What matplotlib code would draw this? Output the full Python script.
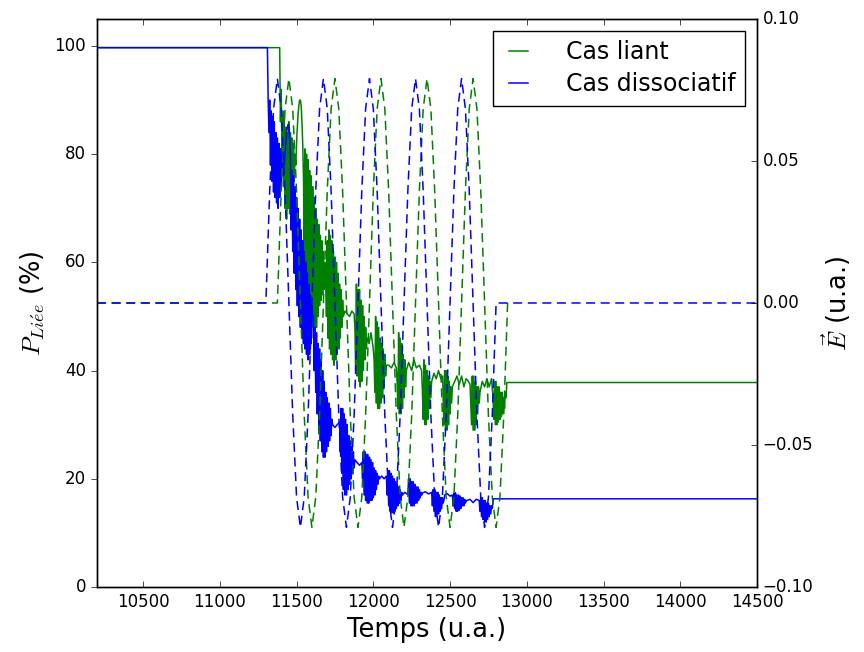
import numpy as np
import matplotlib
matplotlib.use('Agg')
import matplotlib.pyplot as plt

# Pas (u.a.) entre deux points lus dans les zones bruitées
pas_rafale = 5

# Cas liant : paliers calmes (temps, valeur)
liant_calme_t = [10200, 11388, 11815, 11830, 11845, 11860, 11875, 11972, 11985, 11998,
                 12100, 12118, 12135, 12150, 12230, 12250, 12265, 12280, 12300, 12315,
                 12395, 12410, 12425, 12440, 12452, 12530, 12545, 12560, 12575, 12590,
                 12605, 12620, 12630, 12710, 12725, 12740, 12755, 12770, 14500]
liant_calme_p = [99.7, 99.7, 51, 50.5, 50, 51, 50.5, 45, 47, 44.5,
                 41, 40.5, 41.5, 40.5, 41.5, 40, 42, 40.5, 41, 40,
                 39.5, 38.5, 40, 38.5, 39, 38, 39, 37.5, 39, 37,
                 38.5, 38, 37.5, 38, 37, 38.5, 37, 38.5, 37.8]

# Cas liant : rafales (début, puis une valeur tous les 5 u.a.)
liant_debuts = [11390, 11550, 11695, 11880, 12005, 12155, 12320, 12455, 12635, 12780]
liant_r1 = [99.7, 86, 92, 80, 88, 74, 87, 70, 85, 68, 84, 70, 86, 69, 84, 72, 83, 71, 82, 75,
            80, 78, 82, 85, 87.5, 89, 90, 90, 89, 86, 82, 76]
liant_r2 = [62, 81, 58, 80, 55, 79, 52, 77, 50, 76, 48, 74, 46, 72, 45, 70, 48, 68, 50, 67,
            52, 65, 53, 64, 54, 62, 55, 60, 56]
liant_r3 = [50, 64, 46, 66, 44, 65, 43, 64, 42, 62, 41, 61, 42, 60, 43, 58, 44, 56, 46, 55,
            48, 53, 50]
liant_r4 = [48, 40, 56, 39, 55, 38, 55, 37, 53, 38, 52, 40, 50, 42, 48, 44, 46]
liant_r5 = [42, 36, 50, 34, 49, 33, 48, 33, 46, 34, 45, 35, 44, 37, 43, 39, 41]
liant_r6 = [38, 33, 47, 32, 46, 32, 45, 33, 43, 35, 42, 37, 40]
liant_r7 = [36, 31, 42, 30, 41, 30, 40, 31, 39, 33, 38, 35, 38]
liant_r8 = [35, 30, 40, 29, 40, 29, 39, 30, 38, 32, 37, 34, 37]
liant_r9 = [34, 30, 39, 29, 39, 29, 38, 30, 37, 32, 37, 34, 36]
liant_r10 = [35, 31, 38, 30, 38, 30, 37, 30.5, 37, 31, 36, 31.5, 36, 32, 35, 33, 36, 35, 37.8]

# Cas dissociatif : paliers calmes
dissoc_calme_t = [10200, 11310, 11610, 11750, 11765, 11780, 11895, 11910, 11925, 12055,
                  12070, 12085, 12205, 12220, 12340, 12360, 12380, 12480, 12500, 12515,
                  12630, 12650, 12670, 12690, 12782, 14500]
dissoc_calme_p = [99.7, 99.7, 50, 29.5, 30, 30.5, 23, 22.5, 23, 20.5,
                  20, 20.5, 17.5, 17.2, 17.6, 17.2, 17.5, 17.3, 16.8, 17,
                  16.2, 15.6, 16.2, 16, 16.3, 16.3]

# Cas dissociatif : rafales
dissoc_debuts = [11315, 11460, 11615, 11785, 11930, 12090, 12225, 12385, 12520, 12695]
dissoc_r1 = [90, 84, 90, 78, 88, 75, 87, 73, 86, 72, 84, 71, 83, 70, 82, 72, 81, 74, 80, 76,
             79, 78, 80, 82, 84, 85, 85.5, 85, 83]
dissoc_r2 = [80, 66, 77, 62, 76, 58, 74, 55, 72, 52, 70, 50, 68, 48, 66, 46, 64, 45, 62, 44,
             60, 43, 58, 42, 56, 43, 54, 45, 52, 50]
dissoc_r3 = [40, 48, 36, 47, 32, 45, 29, 44, 27, 42, 25, 40, 24, 38, 24, 36, 25, 35, 26, 34,
             27, 33, 28, 31, 30]
dissoc_r4 = [25, 33, 21, 33, 18, 32, 17, 31, 17, 30, 18, 28, 19, 27, 20, 26, 21, 25, 22, 23.5]
dissoc_r5 = [20, 25, 17, 25, 16, 24.5, 15.5, 24.5, 15.5, 24, 16, 23.5, 16, 23, 16.5, 22, 17,
             21.5, 18, 21, 19, 20.5, 20]
dissoc_r6 = [17, 21.5, 15, 21.5, 14, 21, 13.7, 20.5, 13.7, 20, 14, 19.5, 14.5, 19, 15, 18.5,
             15.5, 18, 16, 17.5, 17]
dissoc_r7 = [17, 20, 15.5, 20, 15, 19.5, 15, 19.5, 15, 19, 15.5, 18.5, 15.5, 18.5, 16, 18,
             16.5, 17.5, 17, 17.4]
dissoc_r8 = [15, 18, 14, 18, 13, 17.5, 13, 17.5, 13.5, 17, 14, 16.5, 14.5, 16.5, 15.5, 16, 17]
dissoc_r9 = [15, 17.4, 14.5, 17.4, 14, 17, 14, 17, 14.2, 16.8, 14.5, 16.5, 15, 16.5, 15, 16.2,
             15.5, 16, 16]
dissoc_r10 = [14, 16.5, 13, 16.5, 12.5, 16, 12, 16, 12, 15.5, 12.5, 15.5, 13, 15, 13.5, 15,
              14.5]

# Champ électrique (u.a.), un échantillon tous les 25 u.a. pendant l'impulsion
champ_pas = 25
champ_dissoc_debut = 11300
champ_liant_debut = 11375
champ_dissoc = [0.0, 0.0395, 0.0684, 0.079, 0.0684, 0.0395, 0.0, -0.0395, -0.0684, -0.079, -0.0684, -0.0395,
                0.0, 0.0395, 0.0684, 0.079, 0.0684, 0.0395, 0.0, -0.0395, -0.0684, -0.079, -0.0684, -0.0395,
                0.0, 0.0395, 0.0684, 0.079, 0.0684, 0.0395, 0.0, -0.0395, -0.0684, -0.079, -0.0684, -0.0395,
                0.0, 0.0395, 0.0684, 0.079, 0.0684, 0.0395, 0.0, -0.0395, -0.0684, -0.079, -0.0684, -0.0395,
                0.0, 0.0395, 0.0684, 0.079, 0.0684, 0.0395, 0.0, -0.0395, -0.0684, -0.079, -0.0684, -0.0395,
                0.0]
champ_liant = [0.0, 0.0395, 0.0684, 0.079, 0.0684, 0.0395, 0.0, -0.0395, -0.0684, -0.079, -0.0684, -0.0395,
               0.0, 0.0395, 0.0684, 0.079, 0.0684, 0.0395, 0.0, -0.0395, -0.0684, -0.079, -0.0684, -0.0395,
               0.0, 0.0395, 0.0684, 0.079, 0.0684, 0.0395, 0.0, -0.0395, -0.0684, -0.079, -0.0684, -0.0395,
               0.0, 0.0395, 0.0684, 0.079, 0.0684, 0.0395, 0.0, -0.0395, -0.0684, -0.079, -0.0684, -0.0395,
               0.0, 0.0395, 0.0684, 0.079, 0.0684, 0.0395, 0.0, -0.0395, -0.0684, -0.079, -0.0684, -0.0395,
               0.0]


def assemble(calme_t, calme_p, debuts, rafales):
    # Recolle paliers et rafales dans l'ordre du temps
    t = list(calme_t)
    p = list(calme_p)
    for d, r in zip(debuts, rafales):
        t += list(d + pas_rafale * np.arange(len(r)))
        p += list(r)
    ordre = np.argsort(t, kind='stable')
    return np.array(t)[ordre], np.array(p)[ordre]


def temps_champ(debut, n):
    return debut + champ_pas * np.arange(n)


def main():
    plt.style.use('classic')
    fig = plt.figure(figsize=(8.64, 6.52), dpi=100)
    ax = fig.add_axes([0.1123, 0.0997, 0.7639, 0.8712])
    ax2 = ax.twinx()

    lt, lp = assemble(liant_calme_t, liant_calme_p, liant_debuts,
                      [liant_r1, liant_r2, liant_r3, liant_r4, liant_r5,
                       liant_r6, liant_r7, liant_r8, liant_r9, liant_r10])
    dt, dp = assemble(dissoc_calme_t, dissoc_calme_p, dissoc_debuts,
                      [dissoc_r1, dissoc_r2, dissoc_r3, dissoc_r4, dissoc_r5,
                       dissoc_r6, dissoc_r7, dissoc_r8, dissoc_r9, dissoc_r10])

    l1, = ax.plot(lt, lp, color='g', lw=1.1)
    l2, = ax.plot(dt, dp, color='b', lw=1.1)

    t_l = temps_champ(champ_liant_debut, len(champ_liant))
    t_d = temps_champ(champ_dissoc_debut, len(champ_dissoc))
    ax2.plot(np.r_[10200, t_l], np.r_[0.0, champ_liant], color='g', ls='--', lw=1.1,
             dashes=(6.5, 4))
    ax2.plot(np.r_[10200, t_d, 14500], np.r_[0.0, champ_dissoc, 0.0], color='b', ls='--',
             lw=1.1, dashes=(6.5, 4))

    ax.set_xlim(10200, 14500)
    ax.set_ylim(0, 105)
    ax2.set_ylim(-0.1, 0.1)
    ax.set_xticks(np.arange(10500, 14501, 500))
    ax.set_yticks([0, 20, 40, 60, 80, 100])
    ax2.set_yticks([-0.1, -0.05, 0.0, 0.05, 0.1])
    ax2.set_yticklabels(['\u22120.10', '\u22120.05', '0.00', '0.05', '0.10'])
    ax.tick_params(axis='y', direction='out', labelsize=12)
    ax.tick_params(axis='x', labelsize=12)
    ax2.tick_params(axis='y', direction='in', labelsize=12)

    ax.set_xlabel('Temps (u.a.)', fontsize=18.5)
    ax.set_ylabel(r'$P_{Li\acute{e}e}$ (%)', fontsize=18.5)
    ax2.set_ylabel(r'$\vec{E}$ (u.a.)', fontsize=18.5)

    ax2.legend([l1, l2], ['Cas liant', 'Cas dissociatif'], loc='upper right',
               fontsize=17, handlelength=1.4, handletextpad=1.3, borderpad=0.4,
               labelspacing=0.35, borderaxespad=0.5)

    fig.savefig('out.png', dpi=100)


if __name__ == '__main__':
    main()
